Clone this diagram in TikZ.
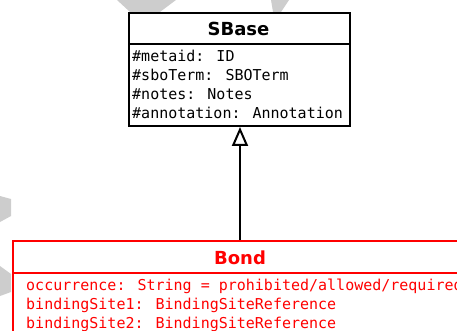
\documentclass[tikz,border=0pt]{standalone}
\usepackage{fontspec}
\setmainfont{DejaVu Sans}
\newfontfamily\attrfont{DejaVu Sans Mono}
\newfontfamily\titlefont{DejaVu Sans}
\usetikzlibrary{arrows.meta}
\definecolor{umlred}{RGB}{255,0,0}
\definecolor{markgray}{RGB}{205,205,205}
\tikzset{
  classbox/.style={draw, line width=2pt, anchor=north west, inner sep=0pt},
  classtitle/.style={font=\titlefont\bfseries\fontsize{18}{20}\selectfont, inner sep=0pt, anchor=center},
  attr/.style={font=\attrfont\fontsize{15}{18}\selectfont, inner sep=0pt, anchor=mid west},
  divider/.style={line width=2pt},
  generalization/.style={line width=2pt, -{Triangle[open, length=19pt, width=16pt, line width=2pt]}},
  watermark/.style={fill=markgray, draw=none}
}
\begin{document}
\begin{tikzpicture}[x=1pt, y=-1pt]
  \useasboundingbox (0,0) rectangle (457,331);
  \clip (0,0) rectangle (457,331);

  % background watermark fragments
  \fill[watermark] (117,0) -- (176,0) -- (160,12) -- (130,12) -- cycle;
  \fill[watermark] (271,0) -- (289,0) -- (281,12) -- (273,12) -- cycle;
  \fill[watermark] (0,196) -- (11,199) -- (11,216) -- (0,222) -- cycle;
  \fill[watermark] (0,266) -- (11,274) -- (11,292) -- (0,296) -- cycle;

  % SBase class
  \node[classbox, minimum width=221pt, minimum height=113pt] (sbase) at (128,12) {};
  \draw[divider] (128,44) -- (349,44);
  \node[classtitle] (sbasetitle) at (238.5,29) {SBase};
  \node[attr] (a1) at (132,59) {\#metaid: ID};
  \node[attr] (a2) at (132,78) {\#sboTerm: SBOTerm};
  \node[attr] (a3) at (132,97) {\#notes: Notes};
  \node[attr] (a4) at (132,116) {\#annotation: Annotation};

  % Bond class (continues past the page edge)
  \node[classbox, draw=umlred, minimum width=456pt, minimum height=110pt] (bond) at (12,240) {};
  \draw[divider, umlred] (12,273) -- (468,273);
  \node[classtitle, text=umlred] (bondtitle) at (240,258) {Bond};
  \node[attr, text=umlred] (b1) at (26,288) {occurrence: String = prohibited/allowed/required};
  \node[attr, text=umlred] (b2) at (26,307) {bindingSite1: BindingSiteReference};
  \node[attr, text=umlred] (b3) at (26,326) {bindingSite2: BindingSiteReference};

  % inheritance
  \draw[generalization] (bond.north -| 240,0) -- (sbase.south -| 240,0);
\end{tikzpicture}
\end{document}
